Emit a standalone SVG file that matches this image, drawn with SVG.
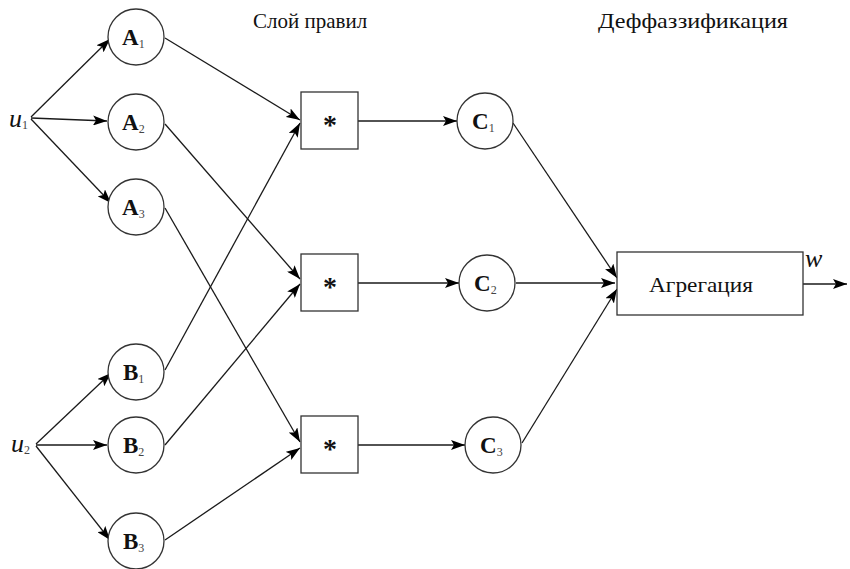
<svg xmlns="http://www.w3.org/2000/svg" width="850" height="569" viewBox="0 0 850 569">
<defs>
<marker id="ah" viewBox="0 0 14 10" refX="14" refY="5" markerWidth="14" markerHeight="10" markerUnits="userSpaceOnUse" orient="auto">
<path d="M0,0 L14,5 L0,10 L3,5 z" fill="#000"/>
</marker>
<style>
.n{fill:#fff;stroke:#333;stroke-width:1.3}
.e{stroke:#1a1a1a;stroke-width:1.3;fill:none;marker-end:url(#ah)}
.l{font-family:"Liberation Serif","Times New Roman","DejaVu Serif",serif;font-weight:bold;font-size:23px;fill:#111}
.s{font-family:"Liberation Serif","Times New Roman","DejaVu Serif",serif;font-size:12px;font-weight:normal;fill:#444}
.t{font-family:"Liberation Serif","Times New Roman","DejaVu Serif",serif;font-size:21px;fill:#111}
.v{font-family:"Liberation Serif","Times New Roman","DejaVu Serif",serif;font-style:italic;font-size:26px;fill:#111}
.st{font-family:"Liberation Serif","Times New Roman","DejaVu Serif",serif;font-weight:bold;font-size:28px;fill:#111}
</style>
</defs>
<rect width="850" height="569" fill="#fff"/>
<text class="t" x="253" y="28">Слой правил</text>
<text class="t" x="598" y="28" textLength="190" lengthAdjust="spacingAndGlyphs">Деффаззификация</text>
<g id="u1"><text class="v" x="9" y="127">u<tspan class="s" dy="2" font-style="normal">1</tspan></text></g>
<g id="u2"><text class="v" x="11" y="452">u<tspan class="s" dy="2" font-style="normal">2</tspan></text></g>
<g id="edges">
<line class="e" x1="31" y1="117" x2="110" y2="39"/>
<line class="e" x1="31" y1="118" x2="107" y2="121"/>
<line class="e" x1="31" y1="119" x2="111" y2="203"/>
<line class="e" x1="36" y1="444" x2="111" y2="373"/>
<line class="e" x1="36" y1="445" x2="107" y2="445"/>
<line class="e" x1="36" y1="446" x2="110" y2="540"/>
<line class="e" x1="165" y1="38" x2="300" y2="120"/>
<line class="e" x1="165" y1="124" x2="300" y2="279"/>
<line class="e" x1="165" y1="208" x2="300" y2="442"/>
<line class="e" x1="165" y1="370" x2="300" y2="123"/>
<line class="e" x1="165" y1="445" x2="300" y2="284"/>
<line class="e" x1="165" y1="540" x2="300" y2="448"/>
<line class="e" x1="358" y1="121" x2="457" y2="121"/>
<line class="e" x1="358" y1="283" x2="459" y2="283"/>
<line class="e" x1="358" y1="445" x2="465" y2="445"/>
<line class="e" x1="513" y1="123" x2="617" y2="278"/>
<line class="e" x1="516" y1="283" x2="615" y2="283"/>
<line class="e" x1="522" y1="443" x2="617" y2="289"/>
<line class="e" x1="803" y1="284" x2="847" y2="284"/>
</g>
<g id="A1"><circle class="n" cx="136" cy="37" r="28"/><text class="l" x="122" y="45">A<tspan class="s" dy="3">1</tspan></text></g>
<g id="A2"><circle class="n" cx="136" cy="122" r="28"/><text class="l" x="122" y="130">A<tspan class="s" dy="3">2</tspan></text></g>
<g id="A3"><circle class="n" cx="136" cy="207" r="28"/><text class="l" x="122" y="215">A<tspan class="s" dy="3">3</tspan></text></g>
<g id="B1"><circle class="n" cx="136" cy="372" r="28"/><text class="l" x="123" y="380">B<tspan class="s" dy="3">1</tspan></text></g>
<g id="B2"><circle class="n" cx="136" cy="445" r="28"/><text class="l" x="123" y="453">B<tspan class="s" dy="3">2</tspan></text></g>
<g id="B3"><circle class="n" cx="136" cy="541" r="28"/><text class="l" x="123" y="549">B<tspan class="s" dy="3">3</tspan></text></g>
<g id="R1"><rect class="n" x="301" y="92" width="57" height="57"/><text class="st" x="330" y="134" text-anchor="middle">*</text></g>
<g id="R2"><rect class="n" x="301" y="254" width="57" height="57"/><text class="st" x="330" y="296" text-anchor="middle">*</text></g>
<g id="R3"><rect class="n" x="301" y="416" width="57" height="57"/><text class="st" x="330" y="458" text-anchor="middle">*</text></g>
<g id="C1"><circle class="n" cx="485" cy="121" r="28"/><text class="l" x="472" y="129">C<tspan class="s" dy="3">1</tspan></text></g>
<g id="C2"><circle class="n" cx="487" cy="283" r="28"/><text class="l" x="474" y="291">C<tspan class="s" dy="3">2</tspan></text></g>
<g id="C3"><circle class="n" cx="493" cy="445" r="28"/><text class="l" x="480" y="453">C<tspan class="s" dy="3">3</tspan></text></g>
<g id="AGG"><rect class="n" x="617" y="252" width="186" height="63"/><text class="t" x="649" y="292" font-size="23" textLength="104" lengthAdjust="spacingAndGlyphs">Агрегация</text></g>
<g id="w"><text class="v" x="805" y="267">w</text></g>
</svg>
